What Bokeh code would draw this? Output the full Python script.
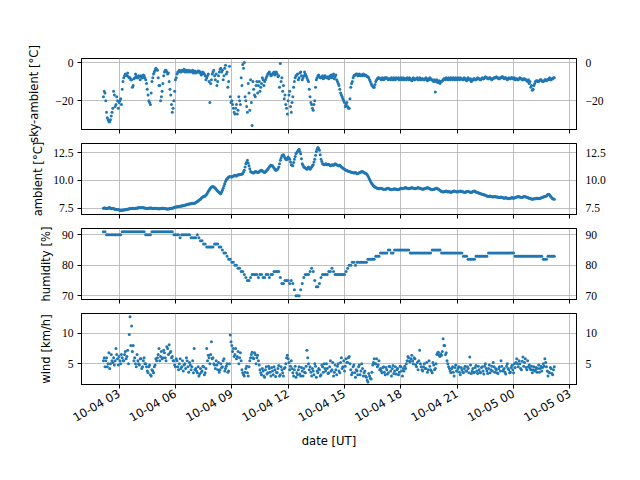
import numpy as np
import pandas as pd
from math import pi
from bokeh.plotting import figure
from bokeh.layouts import column
from bokeh.models import (Range1d, FixedTicker, LinearAxis, DatetimeTickFormatter,
                          CustomJSTickFormatter, ColumnDataSource)
from bokeh.embed import file_html
from bokeh.resources import INLINE

# ---------------- data (readings every 5 minutes from 10-04 02:10 UT) -------------
start_time = "2021-10-04 02:10"
step_minutes = 5
# sky, ambient and wind were also read at the half steps (02:12:30, 02:17:30, ...)
mid_offset_minutes = 2.5

sky_ambient = [
    -18, -16, -26, -30, -31, -28, -24, -17, -22, -20, -21, -19,
    -14, -8, -6, -7, -7.5, -8, -9, -12, -8, -7, -8, -7.5,
    -7, -8, -7, -9, -14, -20, -22, -10, -6, -4, -3.5, -8,
    -12, -18, -11, -5, -4, -6, -10, -17, -26, -20, -9, -6,
    -5, -4.5, -4, -4.5, -5, -4, -4.5, -5, -4.5, -4, -5, -5.5,
    -5, -4.5, -5, -6, -5.5, -7, -8, -6, -21, -9, -5, -7,
    -6, -10, -5, -3, -4, -7, -1.5, -5, -10, -18, -20, -24,
    -27, -22, -25, -20, -8, -1, 0, -20, -26, -16, -9, -33,
    -14, -18, -10, -12, -15, -11, -9, -10, -8, -6, -5, -7,
    -6, -5, -5.5, -6, -7, -0.5, -8, -12, -17, -24, -20, -15,
    -26, -18, -10, -7, -6, -8, -5, -9, -7, -6, -8, -10,
    -18, -22, -25, -20, -9, -7, -7.5, -8, -7, -8, -7.5, -8,
    -8.5, -7, -8, -6, -7.5, -9, -11, -14, -17, -19, -21, -22,
    -23, -24, -13, -10, -7, -6.5, -6, -6.5, -7, -6.5, -6, -7,
    -7, -7.5, -9, -11, -12.5, -13, -10, -8.5, -8, -8.5, -8, -9,
    -8.5, -8, -9, -8.5, -8, -9, -8.5, -8, -8.5, -9, -8, -8.5,
    -9, -8.5, -8, -9, -8.5, -9.5, -8, -9, -8.5, -9, -8, -9,
    -8.5, -9, -8, -9.5, -9, -8.5, -9, -10, -15.5, -9, -10, -11,
    -10, -9, -8.5, -8, -9, -8.5, -8, -9, -8.5, -8, -9, -8.5,
    -8, -8.5, -9, -8.5, -9.5, -8, -9, -10, -9, -8.5, -9, -8,
    -8.5, -9, -8, -8.5, -7.5, -8, -8.5, -8, -9, -8.5, -8, -7.5,
    -8, -8.5, -8, -7.5, -8.5, -8, -9, -8, -8.5, -8, -8.5, -9,
    -8.5, -9, -8, -8.5, -9, -8.5, -9, -10, -11, -13, -14.5, -12,
    -10, -9.5, -10, -9, -9.5, -10, -9, -9.5, -9, -8, -9, -8.5,
    -8,
]

sky_ambient_mid = [
    -15, -20, -29, -31, -30, -26, -15, -23, -18, -24, -20, -22,
    -10, -7, -6.5, -5.5, -8, -9, -13, -8.5, -6, -8, -7, -9,
    -8, -6.5, -8, -11, -17, -21, -16, -8, -5, -3, -4, -12,
    -20, -15, -7, -4, -5, -5.5, -14, -22, -24, -15, -8, -5,
    -4, -5, -4.5, -3.5, -4, -5, -4, -4.5, -5, -5.5, -4.5, -5,
    -4.5, -5.5, -6.5, -5, -6, -9, -7, -10, -11, -6, -4, -9,
    -12, -7, -3.5, -5, -9, -3, -6, -13, -2, -21, -22, -26,
    -24, -27, -18, -22, -12, -3, -18, -23, -11, -25, -21, -10,
    -17, -12, -16, -10, -13, -8, -12, -9, -7, -5.5, -6, -6.5,
    -5.5, -6.5, -5, -7.5, -13, -10, -15, -19, -22, -27, -17, -23,
    -21, -13, -8, -6.5, -9, -5.5, -7, -8, -5, -7, -9, -14,
    -21, -24, -22, -13, -8, -6.5, -8, -7.5, -8.5, -7, -8, -7.5,
    -8, -6.5, -7, -8.5, -6.5, -10, -12, -16, -18, -20, -23, -21,
    -24, -19, -11, -8, -6.5, -6, -7, -6, -6.5, -7, -6.5, -6.5,
    -7.5, -8, -10, -12, -13, -11.5, -9, -8, -8.5, -9, -8.5, -8,
    -8, -8.5, -8.5, -9, -8.5, -8, -9, -8.5, -8, -8.5, -9, -8,
    -8.5, -9, -8.5, -8, -9, -8.5, -9, -8.5, -8, -9, -8.5, -8.5,
    -9, -8.5, -9, -8.5, -8, -9, -9.5, -9, -10, -10.5, -9.5, -10,
    -9.5, -8.5, -9, -8.5, -8, -9, -8.5, -8, -9, -8.5, -8, -9,
    -8.5, -9, -8, -9, -8.5, -9, -8.5, -9.5, -8.5, -9, -8.5, -8.5,
    -9, -8.5, -8.5, -8, -8, -8.5, -8, -8.5, -8.5, -8, -8, -8,
    -8.5, -8, -7.5, -8, -8, -8.5, -8.5, -8.5, -8, -8.5, -8, -8.5,
    -9, -8.5, -8.5, -9, -8.5, -9, -9.5, -9, -10, -12, -14, -11,
    -9.5, -10, -9.5, -9, -10, -9.5, -9, -9, -8.5, -9, -8.5, -8,
]

ambient = [
    7.5, 7.52, 7.48, 7.5, 7.55, 7.45, 7.5, 7.42, 7.4, 7.38, 7.35, 7.3,
    7.32, 7.34, 7.35, 7.4, 7.42, 7.45, 7.48, 7.5, 7.47, 7.5, 7.52, 7.55,
    7.53, 7.55, 7.52, 7.5, 7.48, 7.5, 7.52, 7.5, 7.47, 7.5, 7.48, 7.45,
    7.45, 7.47, 7.5, 7.48, 7.45, 7.42, 7.45, 7.48, 7.5, 7.55, 7.6, 7.62,
    7.65, 7.68, 7.7, 7.72, 7.75, 7.8, 7.85, 7.88, 7.9, 7.95, 7.92, 8.0,
    8.1, 8.2, 8.3, 8.45, 8.55, 8.6, 8.75, 9.0, 9.25, 9.4, 9.45, 9.35,
    9.2, 9.05, 8.9, 8.8, 9.1, 9.5, 9.9, 10.15, 10.3, 10.35, 10.3, 10.4,
    10.45, 10.4, 10.5, 10.5, 10.55, 10.6, 10.9, 11.5, 11.8, 11.3, 10.8, 10.7,
    10.65, 10.8, 10.75, 10.7, 10.85, 10.9, 10.8, 10.7, 10.85, 11.0, 11.2, 11.35,
    11.3, 11.1, 10.9, 10.95, 11.2, 11.8, 12.2, 12.3, 12.0, 11.85, 12.1, 11.9,
    11.4, 11.3, 11.9, 12.4, 12.6, 12.8, 12.4, 11.5, 11.2, 11.1, 11.0, 11.2,
    11.0, 11.2, 11.4, 11.9, 12.6, 12.95, 12.7, 11.9, 11.5, 11.4, 11.5, 11.4,
    11.45, 11.3, 11.4, 11.35, 11.5, 11.4, 11.3, 11.35, 11.2, 11.1, 11.0, 10.9,
    10.85, 10.8, 10.75, 10.7, 10.65, 10.7, 10.6, 10.65, 10.7, 10.8, 10.75, 10.65,
    10.6, 10.4, 10.1, 9.8, 9.6, 9.45, 9.35, 9.3, 9.25, 9.3, 9.25, 9.2,
    9.2, 9.25, 9.3, 9.2, 9.15, 9.2, 9.25, 9.2, 9.15, 9.2, 9.3, 9.25,
    9.3, 9.35, 9.3, 9.25, 9.3, 9.35, 9.3, 9.25, 9.3, 9.35, 9.3, 9.25,
    9.2, 9.25, 9.3, 9.35, 9.3, 9.2, 9.15, 9.2, 9.25, 9.3, 9.2, 9.1,
    9.0, 8.95, 9.0, 9.05, 8.95, 9.0, 8.9, 9.0, 9.05, 9.0, 8.95, 9.0,
    9.05, 9.0, 8.95, 8.9, 9.0, 9.0, 8.95, 8.9, 9.0, 9.05, 8.95, 8.9,
    8.85, 8.8, 8.75, 8.7, 8.65, 8.6, 8.55, 8.6, 8.55, 8.5, 8.55, 8.5,
    8.5, 8.45, 8.5, 8.45, 8.4, 8.45, 8.4, 8.35, 8.4, 8.45, 8.4, 8.45,
    8.5, 8.55, 8.5, 8.45, 8.5, 8.55, 8.5, 8.45, 8.4, 8.35, 8.3, 8.35,
    8.35, 8.4, 8.35, 8.4, 8.45, 8.5, 8.55, 8.6, 8.75, 8.7, 8.5, 8.35,
    8.3,
]

ambient_mid = [
    7.51, 7.5, 7.49, 7.53, 7.5, 7.47, 7.46, 7.41, 7.39, 7.36, 7.32, 7.31,
    7.33, 7.35, 7.38, 7.41, 7.44, 7.47, 7.49, 7.48, 7.49, 7.51, 7.54, 7.54,
    7.54, 7.53, 7.51, 7.49, 7.49, 7.51, 7.51, 7.48, 7.49, 7.49, 7.46, 7.45,
    7.46, 7.49, 7.49, 7.46, 7.43, 7.43, 7.47, 7.49, 7.52, 7.58, 7.61, 7.64,
    7.66, 7.69, 7.71, 7.74, 7.78, 7.82, 7.87, 7.89, 7.92, 7.93, 7.96, 8.05,
    8.15, 8.25, 8.38, 8.5, 8.58, 8.68, 8.88, 9.12, 9.32, 9.43, 9.4, 9.28,
    9.12, 8.98, 8.85, 8.95, 9.3, 9.7, 10.05, 10.22, 10.32, 10.32, 10.35, 10.42,
    10.42, 10.45, 10.5, 10.52, 10.58, 10.75, 11.2, 11.65, 11.55, 11.05, 10.75, 10.68,
    10.72, 10.78, 10.72, 10.78, 10.88, 10.85, 10.75, 10.78, 10.92, 11.1, 11.28, 11.32,
    11.2, 11.0, 10.92, 11.05, 11.5, 12.0, 12.25, 12.15, 11.9, 11.98, 12.0, 11.65,
    11.35, 11.6, 12.15, 12.5, 12.7, 12.6, 11.95, 11.35, 11.15, 11.05, 11.1, 11.1,
    11.1, 11.3, 11.65, 12.25, 12.8, 12.85, 12.3, 11.7, 11.45, 11.45, 11.45, 11.42,
    11.38, 11.35, 11.38, 11.42, 11.45, 11.35, 11.32, 11.28, 11.15, 11.05, 10.95, 10.88,
    10.82, 10.78, 10.72, 10.68, 10.68, 10.65, 10.62, 10.68, 10.75, 10.78, 10.7, 10.62,
    10.5, 10.25, 9.95, 9.7, 9.52, 9.4, 9.32, 9.28, 9.28, 9.28, 9.22, 9.2,
    9.22, 9.28, 9.25, 9.18, 9.18, 9.22, 9.22, 9.18, 9.18, 9.25, 9.28, 9.28,
    9.32, 9.32, 9.28, 9.28, 9.32, 9.32, 9.28, 9.28, 9.32, 9.32, 9.28, 9.22,
    9.22, 9.28, 9.32, 9.32, 9.25, 9.18, 9.18, 9.22, 9.28, 9.25, 9.15, 9.05,
    8.98, 8.98, 9.02, 9.0, 8.98, 8.95, 8.95, 9.02, 9.02, 8.98, 8.98, 9.02,
    9.02, 8.98, 8.92, 8.95, 9.0, 8.98, 8.92, 8.95, 9.02, 9.0, 8.92, 8.88,
    8.82, 8.78, 8.72, 8.68, 8.62, 8.58, 8.58, 8.58, 8.52, 8.52, 8.52, 8.5,
    8.48, 8.48, 8.48, 8.42, 8.42, 8.42, 8.38, 8.38, 8.42, 8.42, 8.42, 8.48,
    8.52, 8.52, 8.48, 8.48, 8.52, 8.52, 8.48, 8.42, 8.38, 8.32, 8.32, 8.35,
    8.38, 8.38, 8.38, 8.42, 8.48, 8.52, 8.58, 8.68, 8.72, 8.6, 8.42, 8.32,
]

humidity = [
    91, 91, 90, 90, 90, 90, 90, 90, 90, 90, 90, 90,
    91, 91, 91, 91, 91, 91, 91, 91, 91, 91, 91, 91,
    91, 91, 91, 90, 90, 90, 90, 91, 91, 91, 91, 91,
    91, 91, 91, 91, 91, 91, 91, 91, 91, 90, 90, 90,
    90, 89, 90, 90, 90, 90, 90, 90, 89, 89, 89, 89,
    90, 89, 88, 88, 87, 87, 86, 86, 86, 86, 86, 87,
    87, 87, 86, 86, 85, 84, 84, 83, 82, 82, 81, 81,
    80, 80, 79, 79, 78, 78, 77, 76, 75, 75, 76, 77,
    77, 77, 77, 76, 77, 77, 76, 76, 77, 77, 76, 77,
    77, 78, 78, 78, 78, 76, 74, 74, 75, 75, 75, 74,
    75, 74, 72, 70, 70, 70, 72, 74, 76, 77, 77, 77,
    78, 79, 78, 75, 73, 73, 74, 76, 77, 77, 77, 77,
    78, 78, 79, 78, 77, 77, 77, 77, 77, 77, 77, 78,
    79, 80, 80, 81, 81, 80, 81, 81, 81, 81, 81, 81,
    81, 82, 82, 82, 82, 82, 83, 83, 83, 84, 84, 84,
    84, 84, 85, 85, 84, 84, 85, 85, 85, 85, 85, 85,
    85, 85, 85, 85, 84, 84, 84, 84, 84, 84, 84, 84,
    84, 84, 84, 84, 84, 84, 85, 85, 85, 85, 85, 85,
    84, 84, 84, 84, 84, 84, 84, 84, 84, 84, 84, 84,
    84, 84, 83, 83, 83, 82, 82, 82, 82, 82, 83, 83,
    83, 83, 83, 83, 83, 83, 84, 84, 84, 84, 84, 84,
    84, 84, 84, 84, 84, 84, 84, 84, 84, 84, 84, 83,
    83, 83, 83, 83, 83, 83, 83, 83, 83, 83, 83, 83,
    83, 83, 83, 83, 83, 82, 82, 82, 83, 83, 83, 83,
    83,
]

wind = [
    5.5, 4.5, 6.0, 5.0, 4.2, 6.5, 5.2, 4.8, 7.5, 5.8, 6.2, 5.0,
    6.0, 5.5, 7.0, 6.2, 5.0, 12.7, 11.2, 8.0, 6.0, 4.5, 5.5, 4.8,
    5.8, 4.5, 6.0, 5.0, 3.8, 4.5, 3.2, 4.0, 3.5, 4.8, 5.5, 6.5,
    5.5, 7.0, 6.0, 6.8, 5.5, 7.5, 8.1, 7.0, 6.2, 5.5, 4.5, 5.5,
    4.0, 5.8, 4.5, 3.8, 5.0, 6.0, 4.5, 5.2, 4.0, 5.5, 7.5, 4.2,
    3.5, 3.0, 4.2, 3.8, 4.5, 3.5, 7.5, 6.4, 5.0, 8.6, 6.0, 4.8,
    5.5, 4.0, 3.6, 5.0, 4.5, 5.8, 4.2, 5.0, 3.8, 9.7, 8.0, 7.5,
    6.5, 5.8, 7.0, 6.0, 5.5, 3.5, 3.0, 4.2, 3.5, 4.5, 6.0, 6.9,
    5.8, 6.5, 6.0, 5.5, 4.0, 3.2, 3.8, 2.8, 4.5, 3.5, 4.2, 3.0,
    3.8, 4.5, 2.9, 3.5, 4.7, 3.2, 4.0, 3.0, 4.4, 6.0, 5.8, 4.0,
    5.5, 3.5, 4.0, 2.8, 3.2, 4.5, 3.0, 3.8, 4.2, 3.5, 7.2, 5.0,
    4.5, 3.0, 3.8, 5.0, 2.8, 3.5, 4.0, 3.2, 4.5, 5.0, 3.8, 4.2,
    3.5, 5.5, 4.0, 3.0, 4.8, 3.2, 5.0, 3.5, 6.0, 4.5, 3.8, 5.8,
    5.2, 6.2, 4.0, 3.5, 4.8, 2.8, 3.8, 4.5, 3.2, 5.0, 3.0, 3.8,
    2.8, 2.0, 3.0, 2.5, 4.8, 5.8, 5.0, 4.5, 5.5, 4.2, 3.5, 4.5,
    3.2, 4.0, 3.5, 4.5, 3.0, 4.7, 3.8, 3.3, 4.2, 3.6, 4.5, 3.0,
    3.8, 4.2, 5.5, 6.0, 5.3, 6.4, 5.0, 5.8, 4.5, 4.0, 7.2, 4.5,
    3.8, 5.0, 4.2, 3.6, 5.5, 4.0, 3.5, 4.8, 4.2, 6.5, 6.9, 6.2,
    6.4, 9.1, 8.0, 6.8, 5.0, 4.2, 3.5, 4.5, 3.0, 4.8, 3.8, 4.5,
    3.2, 4.0, 3.5, 4.6, 3.8, 4.2, 6.1, 3.4, 4.2, 3.6, 4.7, 3.4,
    4.0, 3.5, 4.5, 3.3, 5.0, 3.8, 4.2, 3.5, 4.6, 5.2, 3.6, 4.0,
    3.4, 4.5, 5.5, 3.8, 4.2, 3.3, 5.0, 4.0, 3.6, 4.7, 3.5, 4.4,
    5.8, 4.5, 5.0, 4.0, 6.1, 5.2, 4.4, 5.5, 4.8, 4.0, 3.5, 4.5,
    4.0, 3.6, 4.8, 4.2, 3.8, 5.0, 5.8, 4.5, 3.0, 3.5, 4.2, 3.2,
    4.5,
]

wind_mid = [
    6.0, 5.5, 4.5, 6.8, 5.0, 5.5, 6.0, 5.5, 6.5, 4.8, 5.5, 6.5,
    5.5, 6.5, 5.8, 7.2, 9.8, 8.0, 7.0, 5.5, 5.0, 6.5, 5.0, 5.8,
    4.2, 5.5, 5.0, 4.5, 3.5, 4.8, 3.0, 3.8, 4.5, 5.8, 6.0, 7.5,
    6.2, 5.8, 7.2, 6.0, 7.8, 6.5, 6.8, 6.0, 5.5, 4.8, 5.8, 4.5,
    5.0, 4.2, 5.5, 4.8, 4.2, 5.5, 3.6, 4.8, 4.5, 3.5, 4.0, 3.8,
    4.5, 3.3, 3.6, 4.6, 3.2, 4.2, 5.5, 6.0, 6.5, 5.8, 5.0, 4.2,
    4.8, 5.2, 4.0, 4.4, 5.5, 3.8, 4.6, 3.6, 5.0, 8.6, 7.0, 6.2,
    7.5, 6.2, 5.0, 6.8, 4.0, 3.2, 3.6, 4.6, 3.0, 5.5, 6.5, 6.0,
    6.8, 5.0, 6.4, 4.8, 3.5, 4.2, 3.0, 4.0, 3.3, 4.6, 3.6, 4.4,
    3.2, 4.0, 3.6, 4.2, 3.0, 4.5, 3.5, 4.2, 5.0, 6.4, 5.2, 4.6,
    4.2, 3.0, 4.6, 3.5, 4.0, 3.3, 4.4, 3.0, 3.6, 4.6, 6.0, 4.0,
    3.6, 4.2, 3.2, 4.6, 3.8, 4.2, 3.0, 4.8, 3.6, 4.2, 5.0, 3.4,
    4.5, 3.8, 5.2, 3.6, 4.0, 4.6, 3.8, 5.2, 4.2, 5.5, 4.6, 5.2,
    6.0, 5.0, 3.2, 4.5, 3.5, 4.0, 3.2, 4.8, 3.8, 4.2, 3.5, 3.0,
    2.3, 3.4, 2.6, 3.6, 5.2, 5.0, 5.8, 4.8, 4.0, 3.8, 4.4, 3.6,
    4.4, 3.3, 4.6, 3.8, 4.2, 3.4, 4.5, 4.0, 3.2, 4.6, 3.8, 4.2,
    4.6, 5.0, 6.2, 5.4, 5.8, 5.5, 6.0, 4.8, 5.2, 5.5, 5.0, 4.0,
    4.5, 4.2, 5.2, 4.0, 4.6, 3.8, 5.2, 4.0, 5.0, 6.8, 6.4, 6.6,
    7.0, 8.0, 6.5, 5.5, 4.5, 3.8, 4.2, 3.6, 4.4, 3.8, 4.2, 3.6,
    4.4, 3.6, 4.2, 3.8, 4.5, 3.5, 4.8, 3.8, 3.5, 4.4, 3.8, 4.6,
    3.6, 4.4, 3.8, 4.6, 4.2, 3.4, 4.8, 4.0, 3.8, 4.5, 4.2, 3.5,
    4.2, 3.8, 4.6, 4.0, 3.6, 4.6, 4.2, 3.5, 4.4, 4.0, 5.0, 5.2,
    5.0, 5.5, 4.2, 5.4, 4.6, 5.8, 4.0, 4.5, 4.2, 4.6, 4.0, 3.8,
    4.4, 4.2, 3.6, 4.6, 4.4, 4.6, 5.2, 3.8, 3.6, 4.4, 3.4, 4.0,
]

x_tick_times = ["2021-10-04 03:00", "2021-10-04 06:00", "2021-10-04 09:00",
                "2021-10-04 12:00", "2021-10-04 15:00", "2021-10-04 18:00",
                "2021-10-04 21:00", "2021-10-05 00:00", "2021-10-05 03:00"]

sky_ticks = [-20, 0]
sky_tick_labels = ["\u221220", "0"]
amb_ticks = [7.5, 10.0, 12.5]
amb_tick_labels = ["7.5", "10.0", "12.5"]
hum_ticks = [70, 80, 90]
hum_tick_labels = ["70", "80", "90"]
wind_ticks = [5, 10]
wind_tick_labels = ["5", "10"]

# ---------------- build ----------------
t0 = pd.Timestamp(start_time)
times = t0 + pd.to_timedelta(np.arange(len(sky_ambient)) * step_minutes, unit="min")
times_mid = t0 + pd.to_timedelta(np.arange(len(sky_ambient_mid)) * step_minutes + mid_offset_minutes, unit="min")
src = ColumnDataSource(dict(t=times, sky=sky_ambient, amb=ambient, hum=humidity, wind=wind))
src_mid = ColumnDataSource(dict(t=times_mid, sky=sky_ambient_mid, amb=ambient_mid, wind=wind_mid))

x_range = Range1d(pd.Timestamp("2021-10-04 01:00"), pd.Timestamp("2021-10-05 03:21"))
x_ticks_ms = [pd.Timestamp(t).value / 1e6 for t in x_tick_times]

BLUE = "#1f77b4"
SANS = "DejaVu Sans"
SERIF = "Liberation Serif"
FS = "11.6px"
TFS = "11.6px"


def make_panel(col, sources, ylabel, ylo, yhi, ticks, labels, top, bottom, mtop, lab_standoff, last):
    p = figure(x_axis_type="datetime", x_range=x_range, y_range=Range1d(ylo, yhi),
               frame_width=495, frame_height=71,
               min_border_left=81, min_border_right=40,
               min_border_top=top, min_border_bottom=bottom,
               output_backend="svg", toolbar_location=None,
               border_fill_color=None, background_fill_color="white",
               outline_line_color="black", outline_line_width=1,
               margin=(mtop, 0, 0, 0))
    for s in sources:
        p.scatter("t", col, source=s, size=3.0, color=BLUE, line_color=None)

    yt = FixedTicker(ticks=ticks)
    overrides = {float(k): v for k, v in zip(ticks, labels)}
    ya = p.yaxis[0]
    ya.ticker = yt
    ya.major_label_overrides = overrides
    ya.axis_label = ylabel
    ya.axis_label_text_font = SANS
    ya.axis_label_text_font_size = FS
    ya.axis_label_text_font_style = "normal"
    ya.axis_label_text_color = "black"
    ya.axis_label_standoff = lab_standoff
    ya.major_label_text_font = SERIF
    ya.major_label_text_font_size = TFS
    ya.major_label_text_color = "black"
    ya.major_tick_out = 4
    ya.major_tick_in = 0
    ya.minor_tick_out = 0
    ya.minor_tick_in = 0
    ya.major_label_standoff = 4
    ya.axis_line_color = "black"
    ya.major_tick_line_color = "black"

    ra = LinearAxis(ticker=yt, major_label_overrides=overrides,
                    major_label_text_font=SERIF, major_label_text_font_size=TFS,
                    major_label_text_color="black",
                    major_tick_out=0, major_tick_in=0, minor_tick_out=0, minor_tick_in=0,
                    major_label_standoff=9, axis_line_color="black")
    p.add_layout(ra, "right")

    xt = FixedTicker(ticks=x_ticks_ms)
    xa = p.xaxis[0]
    xa.ticker = xt
    xa.major_tick_out = 4
    xa.major_tick_in = 0
    xa.minor_tick_out = 0
    xa.minor_tick_in = 0
    xa.axis_line_color = "black"
    xa.major_tick_line_color = "black"
    if last:
        fmt = "%m-%d %H"
        xa.formatter = DatetimeTickFormatter(
            microseconds=fmt, milliseconds=fmt, seconds=fmt, minsec=fmt, minutes=fmt,
            hourmin=fmt, hours=fmt, days=fmt, months=fmt, years=fmt)
        xa.major_label_orientation = pi / 6
        xa.major_label_text_font = SANS
        xa.major_label_text_font_size = FS
        xa.major_label_text_color = "black"
        xa.major_label_standoff = 4
        xa.axis_label = "date [UT]"
        xa.axis_label_text_font = SANS
        xa.axis_label_text_font_size = FS
        xa.axis_label_text_font_style = "normal"
        xa.axis_label_text_color = "black"
        xa.axis_label_standoff = 0
    else:
        xa.formatter = CustomJSTickFormatter(code="return '';")

    for g in (p.xgrid[0], p.ygrid[0]):
        g.grid_line_color = "#b0b0b0"
        g.grid_line_width = 0.8
    p.xgrid[0].ticker = xt
    p.ygrid[0].ticker = yt
    return p


GAP = 14
B = 35
T = 25
M = GAP - B - T

p1 = make_panel("sky", [src, src_mid], "sky-ambient [\u00b0C]", -35.1, 2.1,
                sky_ticks, sky_tick_labels, 58, B, 0, 11, False)
p2 = make_panel("amb", [src, src_mid], "ambient [\u00b0C]", 6.93, 13.31,
                amb_ticks, amb_tick_labels, T, B, M, 5, False)
p3 = make_panel("hum", [src], "humidity [%]", 68.8, 92.05,
                hum_ticks, hum_tick_labels, T, B, M, 6, False)
p4 = make_panel("wind", [src, src_mid], "wind [km/h]", 1.59, 13.25,
                wind_ticks, wind_tick_labels, T, 70, M, 6, True)

layout = column(p1, p2, p3, p4, spacing=0)

open("out.html", "w").write(file_html(layout, INLINE))
